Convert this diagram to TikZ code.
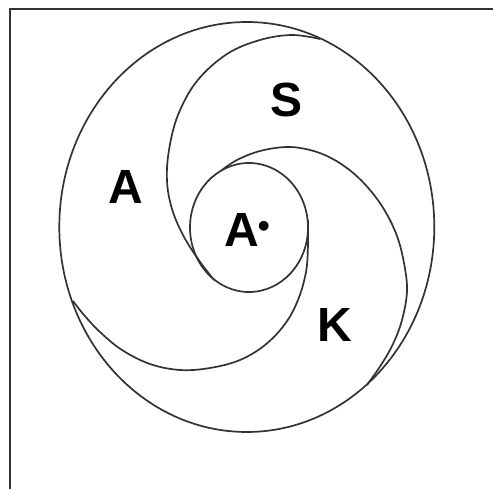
\documentclass[tikz,border=0pt]{standalone}
\usepackage{fontspec}
\setmainfont{Liberation Sans}
\begin{document}
\begin{tikzpicture}[x=1pt,y=-1pt,
  curve/.style={line width=1.7pt, draw=black!80},
  framestyle/.style={line width=1.4pt, draw=black!80},
  lbl/.style={font=\fontsize{48}{48}\selectfont\bfseries, inner sep=0pt}]
\useasboundingbox (0,0) rectangle (493,489);
% frame
\draw[framestyle] (10,489) -- (10,9) -- (493,9);
% outer and inner circles
\draw[curve] (246.8,227) ellipse [x radius=187.5pt, y radius=205pt];
\draw[curve] (249,227.5) ellipse [x radius=59pt, y radius=64.5pt];
% spiral arcs
\draw[curve] plot[smooth, tension=0.6] coordinates {(214,280) (198,259) (183,235) (172,209) (167,181) (169,150) (178,115) (197,81) (227,54) (260,40) (292,35) (320,39)};
\draw[curve] plot[smooth, tension=0.6] coordinates {(222,170) (237,160) (260,151) (287,147) (310,150) (331,158) (352,172) (370,190) (385,211) (397,236) (404,263) (407,291) (402,320) (393,344) (381,365) (367,385)};
\draw[curve] plot[smooth, tension=0.6] coordinates {(308,220) (308,245) (306,272) (298,300) (285,324) (265,345) (240,360) (210,368) (180,370) (150,364) (122,350) (100,332) (84,315) (73,301)};
% labels
\node[lbl] (la) at (126,187) {A};
\node[lbl] (ls) at (287,100) {S};
\node[lbl] (lk) at (335,325) {K};
\node[lbl, anchor=base west] (lc) at (224,247) {A\kern-1pt\raisebox{9pt}{\fontsize{34}{34}\selectfont•}};
\end{tikzpicture}
\end{document}
